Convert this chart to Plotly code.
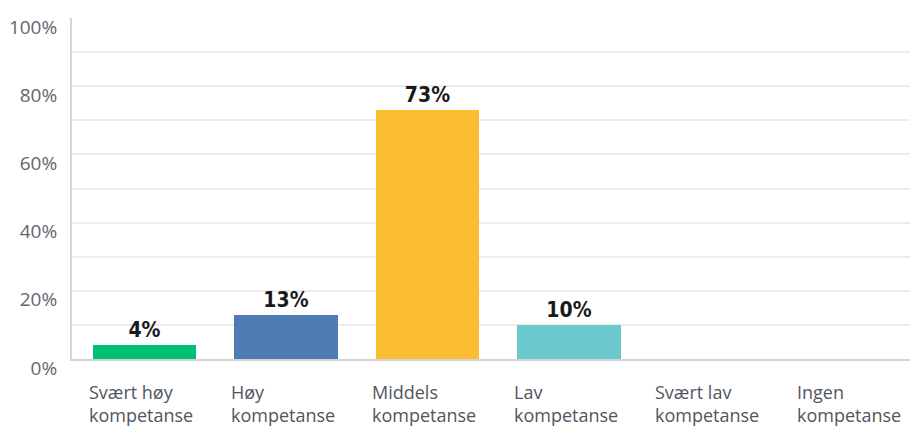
import plotly.graph_objects as go

# Survey answers: self-assessed competence level
categories = ["Svært høy<br>kompetanse", "Høy<br>kompetanse", "Middels<br>kompetanse",
              "Lav<br>kompetanse", "Svært lav<br>kompetanse", "Ingen<br>kompetanse"]
values = [4, 13, 73, 10, 0, 0]
bar_colors = ["#00bf6f", "#507cb6", "#fbbd33", "#6bc8cd", "#ff8b4f", "#7d5e90"]
y_tick_vals = [0, 20, 40, 60, 80, 100]
y_tick_text = ["0%", "20%", "40%", "60%", "80%", "100%"]
grid_vals = [10, 20, 30, 40, 50, 60, 70, 80, 90]

idx = list(range(len(categories)))
labels = [f"{v}%" if v > 0 else "" for v in values]

fig = go.Figure(go.Bar(
    x=idx,
    y=values,
    width=0.73,
    marker=dict(color=bar_colors, line=dict(width=0)),
    text=labels,
    textposition="outside",
    textfont=dict(family="DejaVu Sans Condensed, DejaVu Sans, sans-serif", size=21,
                  color="#1a1a1a", weight="bold"),
    cliponaxis=False,
    hoverinfo="skip",
))

# left-aligned two-line category labels under each bar
for i, cat in zip(idx, categories):
    fig.add_annotation(
        x=i, xref="x", xshift=-56, xanchor="left",
        y=0, yref="y", yshift=-20, yanchor="top",
        text=cat, align="left", showarrow=False, borderpad=0,
        font=dict(family="Open Sans", size=18, color="#50565d"),
    )

fig.update_layout(
    width=910, height=426,
    margin=dict(l=72, r=0, t=18, b=67),
    paper_bgcolor="white", plot_bgcolor="white",
    showlegend=False,
    bargap=0,
    xaxis=dict(
        range=[-0.512, 5.41],
        tickvals=idx, showticklabels=False, ticks="",
        showgrid=False, zeroline=False,
        showline=True, linecolor="#d3d3d3", linewidth=2,
        fixedrange=True,
    ),
    yaxis=dict(
        range=[0, 100],
        tickvals=y_tick_vals, ticktext=y_tick_text,
        tickfont=dict(family="Open Sans", size=19, color="#62676d"),
        ticks="", ticklabelstandoff=9, ticklabelshift=9,
        showgrid=False, zeroline=False,
        showline=True, linecolor="#d6d6d6", linewidth=2,
        minor=dict(tickvals=grid_vals, showgrid=True, gridcolor="#ececec", gridwidth=2, ticks=""),
        fixedrange=True,
    ),
)

fig.write_html("out.html")
